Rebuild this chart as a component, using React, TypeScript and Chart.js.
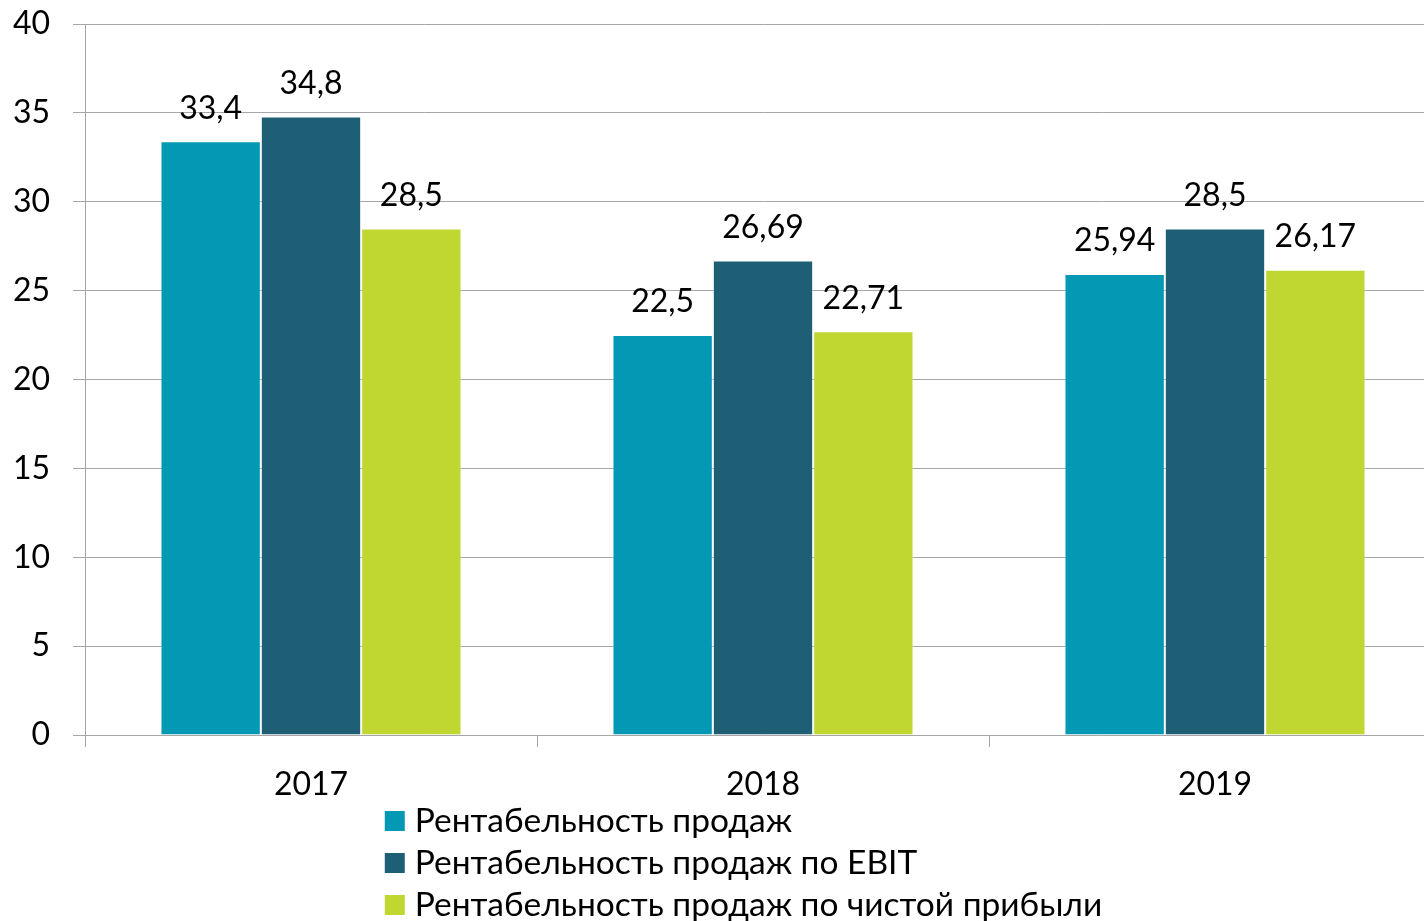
import React, { useEffect, useRef } from "react";
import { Chart, registerables } from "chart.js";

Chart.register(...registerables);

const categories = ["2017", "2018", "2019"];
const seriesNames = [
  "Рентабельность продаж",
  "Рентабельность продаж по EBIT",
  "Рентабельность продаж по чистой прибыли",
];
const salesMargin = [33.4, 22.5, 25.94];
const ebitMargin = [34.8, 26.69, 28.5];
const netMargin = [28.5, 22.71, 26.17];
const seriesColors = ["#0399B5", "#1F5F75", "#C0D732"];
const yMin = 0;
const yMax = 40;
const yStep = 5;

const FONT = "Lato, 'Open Sans', sans-serif";
const FONT_SIZE = 32;
const LEGEND_FONT_SIZE = 33.5;
const W = 1487;
const H = 950;

const fmt = (v: number) => String(v).replace(".", ",");

const dataLabelPlugin = {
  id: "dataLabels",
  afterDatasetsDraw(chart: any) {
    const ctx = chart.ctx;
    ctx.save();
    ctx.font = `${FONT_SIZE}px ${FONT}`;
    ctx.fillStyle = "#000";
    ctx.textAlign = "center";
    ctx.textBaseline = "middle";
    chart.data.datasets.forEach((ds: any, i: number) => {
      const meta = chart.getDatasetMeta(i);
      meta.data.forEach((bar: any, j: number) => {
        ctx.fillText(fmt(ds.data[j]), bar.x, bar.y - 33);
      });
    });
    ctx.restore();
  },
};

const legendPlugin = {
  id: "vertLegend",
  afterDraw(chart: any) {
    const ctx = chart.ctx;
    ctx.save();
    ctx.font = `${LEGEND_FONT_SIZE}px ${FONT}`;
    const texts = chart.data.datasets.map((d: any) => d.label);
    const maxW = Math.max(...texts.map((t: string) => ctx.measureText(t).width));
    const box = 20;
    const gap = 10;
    const startX = chart.width / 2 - (box + gap + maxW) / 2;
    const base = chart.chartArea.bottom;
    chart.data.datasets.forEach((ds: any, i: number) => {
      const cy = base + 86 + i * 42;
      ctx.fillStyle = ds.backgroundColor;
      ctx.fillRect(startX, cy - box / 2, box, box);
      ctx.fillStyle = "#000";
      ctx.textAlign = "left";
      ctx.textBaseline = "middle";
      ctx.fillText(ds.label, startX + box + gap, cy);
    });
    ctx.restore();
  },
};

export default function App() {
  const ref = useRef<HTMLCanvasElement | null>(null);
  useEffect(() => {
    document.body.style.overflow = "hidden";
    const canvas = ref.current!;
    const series = [salesMargin, ebitMargin, netMargin];
    const chart = new Chart(canvas, {
      type: "bar",
      data: {
        labels: categories,
        datasets: series.map((data, i) => ({
          label: seriesNames[i],
          data,
          backgroundColor: seriesColors[i],
          borderColor: "rgba(255,255,255,0.45)",
          borderWidth: 1,
          barPercentage: 1,
          categoryPercentage: 0.666,
        })),
      },
      options: {
        responsive: false,
        animation: false,
        devicePixelRatio: 1,
        layout: { padding: { left: 0, top: 24, right: W - 1441, bottom: H - 735 - 70 } },
        plugins: {
          legend: { display: false },
          tooltip: { enabled: false },
        },
        scales: {
          x: {
            offset: true,
            grid: {
              offset: true,
              drawOnChartArea: false,
              drawTicks: true,
              tickLength: 12,
              color: "#A6A6A6",
              lineWidth: 1,
            },
            border: { display: true, color: "#A6A6A6", width: 1 },
            ticks: {
              color: "#000",
              font: { family: FONT, size: FONT_SIZE },
              padding: 18,
            },
            afterFit: (scale: any) => {
              scale.height = 70;
              scale.paddingLeft = 0;
              scale.paddingRight = 0;
            },
          },
          y: {
            min: yMin,
            max: yMax,
            ticks: {
              stepSize: yStep,
              color: "#000",
              font: { family: FONT, size: FONT_SIZE },
              padding: 23,
            },
            grid: {
              color: "#A6A6A6",
              lineWidth: 1,
              drawTicks: true,
              tickLength: 12,
            },
            border: { display: true, color: "#A6A6A6", width: 1 },
            afterFit: (scale: any) => {
              scale.width = 85;
              scale.paddingTop = 0;
              scale.paddingBottom = 0;
            },
          },
        },
      },
      plugins: [dataLabelPlugin, legendPlugin],
    });
    return () => chart.destroy();
  }, []);
  return (
    <div style={{ position: "fixed", left: 0, top: 0, width: W, height: H, background: "#fff" }}>
      <canvas ref={ref} width={W} height={H} style={{ display: "block", width: W, height: H }} />
    </div>
  );
}
